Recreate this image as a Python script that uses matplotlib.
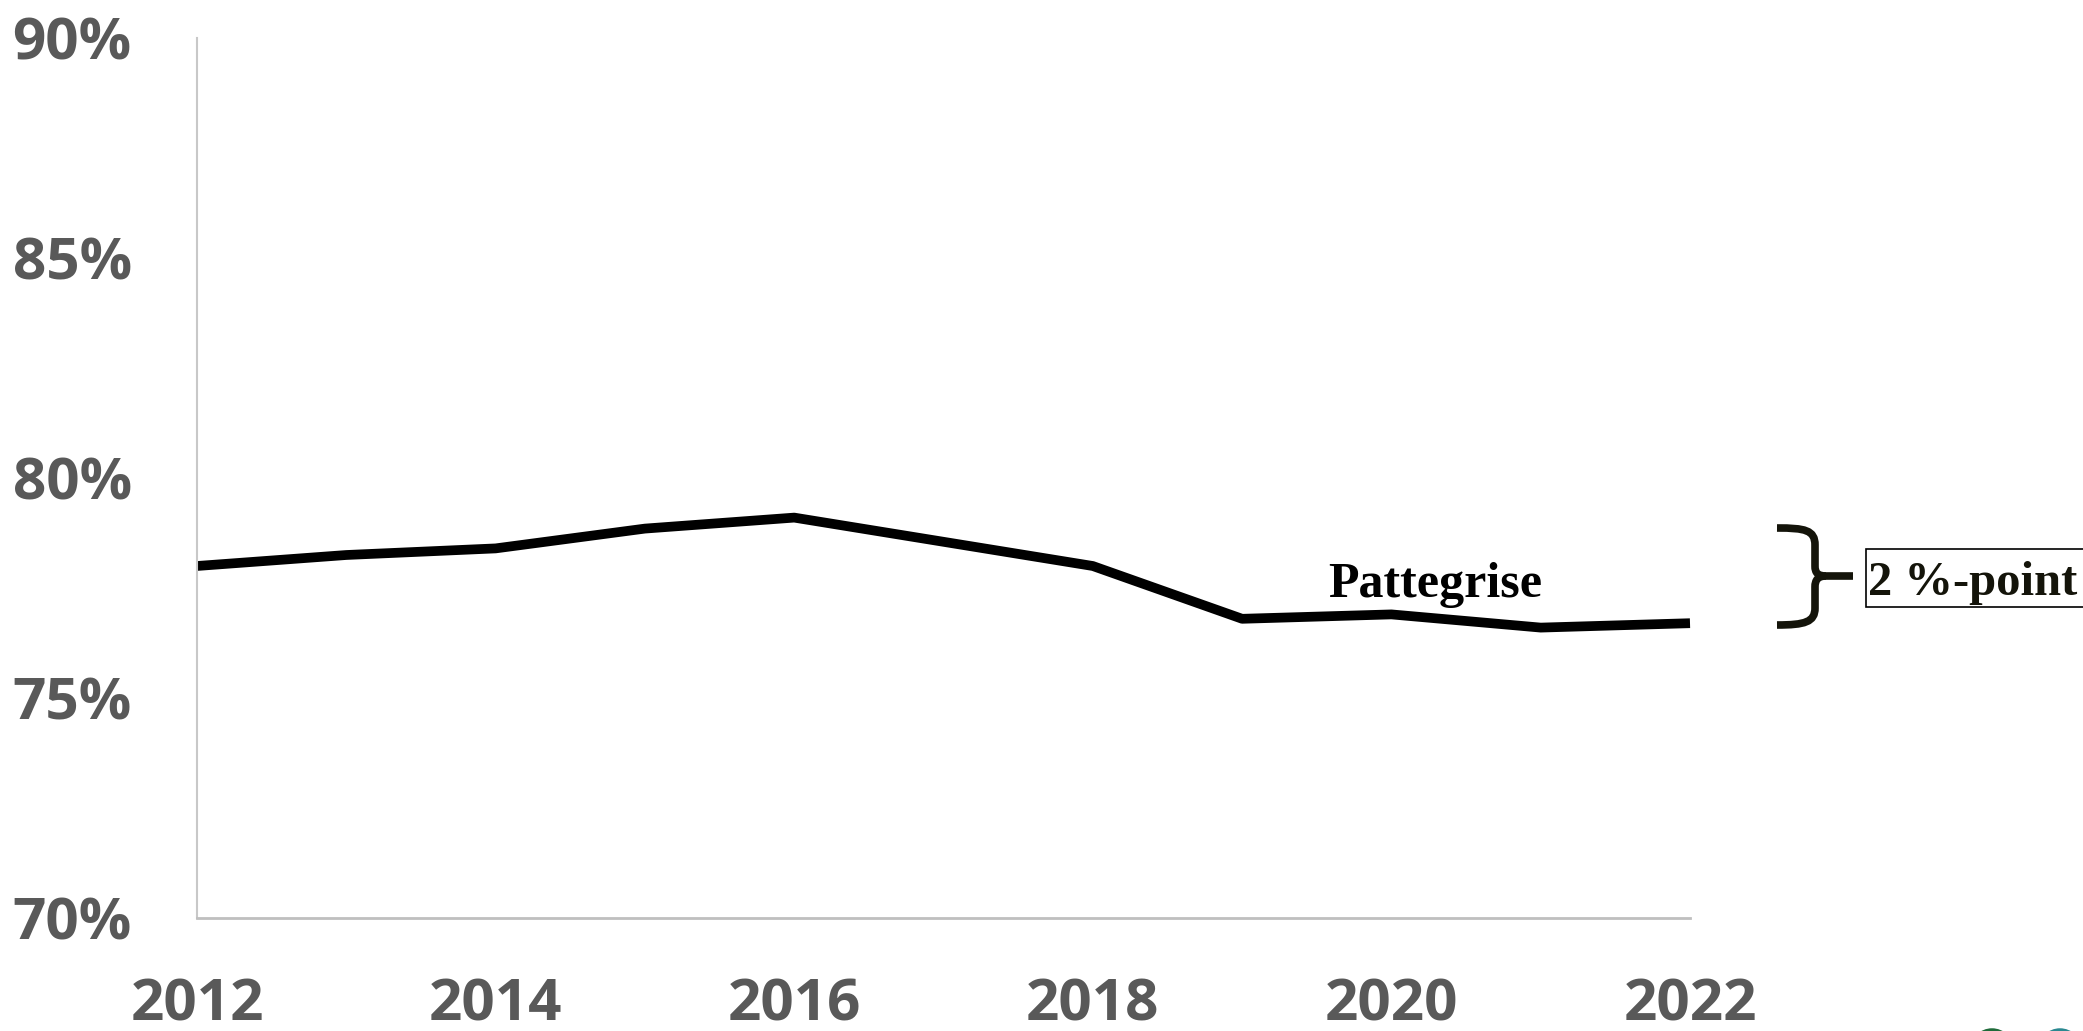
import matplotlib
matplotlib.use("Agg")
import matplotlib.pyplot as plt
from matplotlib.path import Path
from matplotlib.patches import PathPatch, Rectangle, Circle

years = [2012, 2013, 2014, 2015, 2016, 2017, 2018, 2019, 2020, 2021, 2022]
share = [78.0, 78.25, 78.4, 78.85, 79.1, 78.55, 78.0, 76.8, 76.9, 76.6, 76.7]
x_ticks = [2012, 2014, 2016, 2018, 2020, 2022]
y_ticks = [70, 75, 80, 85, 90]
series_label = "Pattegrise"
gap_label = "2 %-point"

W, H = 2083, 1031
fig = plt.figure(figsize=(W / 100, H / 100), dpi=100)
fig.patch.set_facecolor("white")

# plot area in pixels: x 197..1690, y 38..918
ax = fig.add_axes([197 / W, 1 - 918 / H, (1690 - 197) / W, (918 - 38) / H])
ax.plot(years, share, color="black", linewidth=7, solid_joinstyle="round",
        solid_capstyle="butt", clip_on=False)

ax.set_xlim(2012, 2022)
ax.set_ylim(70, 90)
ax.set_xticks(x_ticks)
ax.set_xticklabels([str(t) for t in x_ticks])
ax.set_yticks(y_ticks)
ax.set_yticklabels([f"{t}%" for t in y_ticks])

grey = "#595959"
for lab in ax.get_xticklabels() + ax.get_yticklabels():
    lab.set_fontfamily("Open Sans")
    lab.set_fontweight("bold")
    lab.set_fontsize(42)
    lab.set_color(grey)
ax.tick_params(axis="x", length=0, pad=42)
ax.tick_params(axis="y", length=0, pad=47)

for s in ["top", "right"]:
    ax.spines[s].set_visible(False)
ax.spines["left"].set_color("#c8c8c8")
ax.spines["left"].set_linewidth(1.5)
ax.spines["bottom"].set_color("#bfbfbf")
ax.spines["bottom"].set_linewidth(2)

ax.text(2019.575, 77.3, series_label, family="Liberation Serif", fontweight="bold",
        fontsize=36, color="black", ha="left", va="baseline")

# overlay in pixel coordinates for the brace and the boxed label
ov = fig.add_axes([0, 0, 1, 1])
ov.set_xlim(0, W)
ov.set_ylim(H, 0)
ov.axis("off")
ov.patch.set_alpha(0)

brace_col = "#14140a"
top = Path([(1777, 528), (1805, 528), (1815, 530), (1815, 545),
            (1815, 566), (1815, 573), (1818, 576), (1826, 576), (1853, 576)],
           [Path.MOVETO, Path.CURVE4, Path.CURVE4, Path.CURVE4,
            Path.LINETO, Path.CURVE4, Path.CURVE4, Path.CURVE4, Path.LINETO])
bottom = Path([(1826, 576), (1818, 576), (1815, 580), (1815, 587),
               (1815, 608), (1815, 622), (1805, 625), (1777, 625)],
              [Path.MOVETO, Path.CURVE4, Path.CURVE4, Path.CURVE4,
               Path.LINETO, Path.CURVE4, Path.CURVE4, Path.CURVE4])
for p in (top, bottom):
    ov.add_patch(PathPatch(p, facecolor="none", edgecolor=brace_col, linewidth=5.5,
                           capstyle="butt", joinstyle="round"))

ov.add_patch(Rectangle((1866, 549), 260, 58, facecolor="white", edgecolor="black",
                       linewidth=1.2, clip_on=False))
ov.text(1868, 595, gap_label, family="Liberation Serif", fontweight="bold",
        fontsize=35, color=brace_col, ha="left", va="baseline")

# bits of a logo cut off at the bottom edge
ov.add_patch(Circle((1992, 1050), 20, facecolor="none", edgecolor="#1f6b3a", linewidth=2.5))
ov.add_patch(Circle((2060, 1050), 20, facecolor="none", edgecolor="#2a8890", linewidth=2.5))

fig.savefig("out.png", dpi=100, facecolor="white")
